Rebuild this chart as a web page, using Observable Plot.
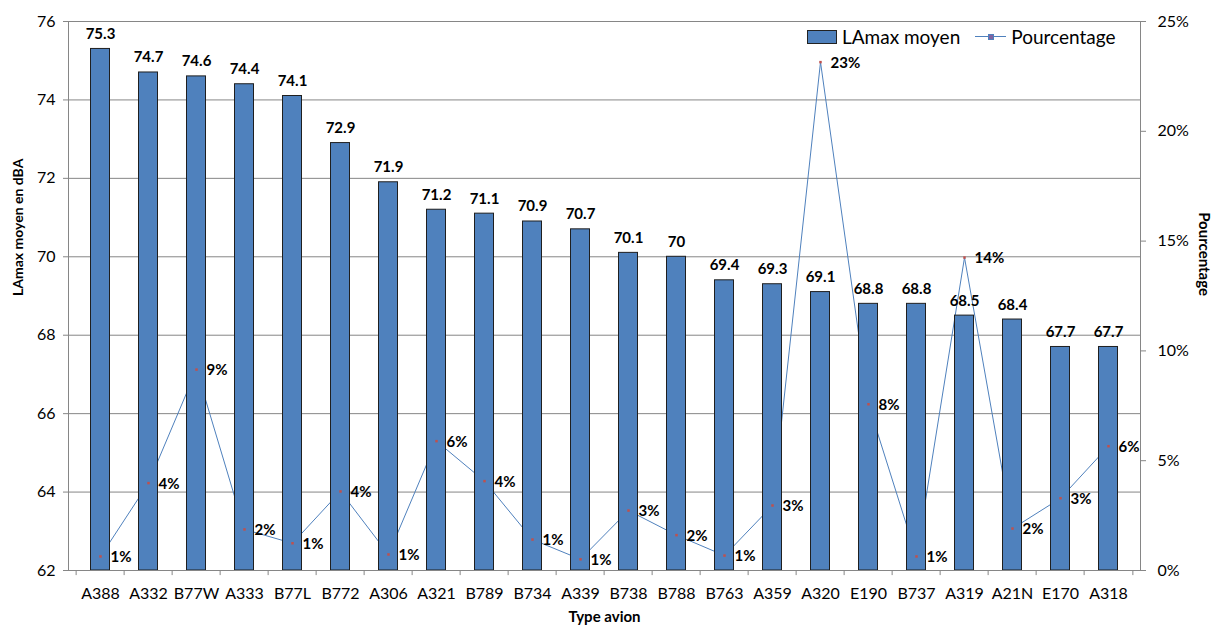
<!DOCTYPE html>
<html><head><meta charset="utf-8">
<script src="https://cdn.jsdelivr.net/npm/d3@7"></script>
<script src="https://cdn.jsdelivr.net/npm/@observablehq/plot@0.6"></script>
<style>
body{margin:0;background:#fff;font-family:Lato,"Open Sans",sans-serif;}
#wrap{position:relative;width:1215px;height:629px;}
#legend{position:absolute;left:807px;top:25px;display:flex;align-items:center;font-size:19px;color:#000;white-space:nowrap;}
.sw{display:inline-block;width:28px;height:12px;background:#4F81BD;border:1px solid #222;margin-right:5px;}
.ln{display:inline-block;position:relative;width:31px;height:1px;background:#4F81BD;margin:0 5px 0 15px;}
.ln i{position:absolute;left:13px;top:-2px;width:4px;height:4px;background:#8064A2;border:0.5px solid #4F81BD;}
</style></head>
<body><div id="wrap"><div id="legend"><span class="sw"></span>LAmax moyen<span class="ln"><i></i></span>Pourcentage</div></div>
<script>
const categories = ["A388","A332","B77W","A333","B77L","B772","A306","A321","B789","B734","A339","B738","B788","B763","A359","A320","E190","B737","A319","A21N","E170","A318"];
const lamax = [75.3,74.7,74.6,74.4,74.1,72.9,71.9,71.2,71.1,70.9,70.7,70.1,70,69.4,69.3,69.1,68.8,68.8,68.5,68.4,67.7,67.7];
const pourcentage = [0.64,3.98,9.15,1.87,1.24,3.60,0.73,5.89,4.07,1.41,0.51,2.73,1.61,0.68,2.96,23.15,7.57,0.64,14.25,1.91,3.29,5.66];
const leftTicks = [62,64,66,68,70,72,74,76];
const pctTicks = [0,5,10,15,20,25];

const yMin = 62, yMax = 76, pMax = 25;
const toLeft = p => yMin + p / pMax * (yMax - yMin);
const data = categories.map((c, i) => ({type: c, lamax: lamax[i], pct: pourcentage[i]}));

const W = 1215, H = 629, mL = 68, mR = 75, mT = 21, mB = 59;
const step = (W - mL - mR) / categories.length;
const grey = "#868686";

const chart = Plot.plot({
  width: W, height: H,
  marginLeft: mL, marginRight: mR, marginTop: mT, marginBottom: mB,
  style: {fontFamily: "Lato, 'Open Sans', sans-serif", fontSize: "16px", color: "#000", background: "transparent"},
  x: {domain: categories, padding: 0},
  y: {domain: [yMin, yMax]},
  marks: [
    Plot.ruleY(leftTicks, {stroke: grey, strokeWidth: 1}),
    Plot.lineY(data, {x: "type", y: d => toLeft(d.pct), stroke: "#4F81BD", strokeWidth: 1}),
    Plot.barY(data, {x: "type", y1: yMin, y2: "lamax", fill: "#4F81BD", stroke: "#1f1f1f", strokeWidth: 1, insetLeft: 14.5, insetRight: 14.5}),
    Plot.dot(data, {x: "type", y: d => toLeft(d.pct), r: 1.4, symbol: "square", fill: "#C0504D", stroke: null}),
    Plot.text(data, {x: "type", y: "lamax", text: d => String(d.lamax), lineAnchor: "bottom", dy: -10, fontWeight: "bold", fontSize: 15}),
    Plot.text(data, {x: "type", y: d => toLeft(d.pct), text: d => Math.round(d.pct) + "%", textAnchor: "start", dx: 10, dy: 1, fontWeight: "bold", fontSize: 15}),
    Plot.frame({stroke: grey}),
    Plot.ruleX(categories, {x: d => d, y1: yMin, y2: yMin - 0.13, dx: -step / 2, stroke: grey}),
    Plot.ruleX([categories[categories.length - 1]], {x: d => d, y1: yMin, y2: yMin - 0.13, dx: step / 2, stroke: grey}),
    Plot.axisY(leftTicks, {anchor: "left", tickSize: 5, tickPadding: 8, stroke: grey, label: null, fontSize: 16}),
    Plot.axisY(pctTicks.map(toLeft), {anchor: "right", tickSize: 5, tickPadding: 12, stroke: grey, label: null, tickFormat: v => Math.round((v - yMin) / (yMax - yMin) * pMax) + "%", fontSize: 16}),
    Plot.axisX({tickSize: 0, tickPadding: 17, label: null, fontSize: 16}),
    Plot.text(["LAmax moyen en dBA"], {frameAnchor: "left", dx: -50, rotate: -90, fontWeight: "bold", fontSize: 14}),
    Plot.text(["Pourcentage"], {frameAnchor: "right", dx: 63, rotate: 90, fontWeight: "bold", fontSize: 15}),
    Plot.text(["Type avion"], {frameAnchor: "bottom", dy: 51, fontWeight: "bold", fontSize: 15})
  ]
});
document.getElementById("wrap").prepend(chart);
chart.style.position = "absolute";
chart.style.left = "0";
chart.style.top = "0";
</script>
</body></html>
